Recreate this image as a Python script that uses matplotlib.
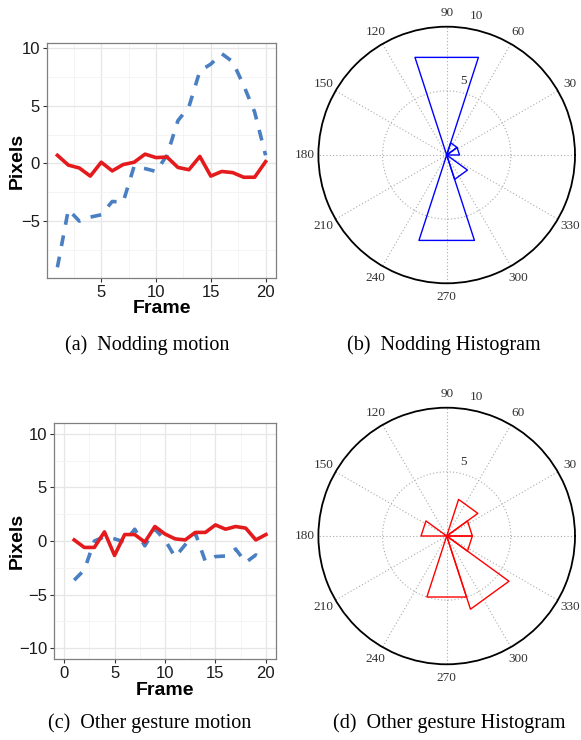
import numpy as np
import matplotlib
matplotlib.use("Agg")
import matplotlib.pyplot as plt

plt.rcParams['font.family'] = ['Liberation Sans', 'DejaVu Sans']

# frame-by-frame motion (pixels)
frames = np.arange(1, 21)
nod_red = [0.7, -0.15, -0.4, -1.1, 0.1, -0.65, -0.1, 0.1, 0.8, 0.5,
           0.55, -0.35, -0.55, 0.6, -1.1, -0.7, -0.8, -1.2, -1.2, 0.15]
nod_blue = [-9.0, -4.0, -5.0, -4.65, -4.45, -3.3, -3.35, -0.25, -0.45, -0.7,
            0.7, 3.7, 4.9, 8.0, 8.6, 9.5, 8.8, 6.75, 4.45, 0.7]
oth_red = [0.1, -0.6, -0.6, 0.85, -1.35, 0.6, 0.6, -0.1, 1.35, 0.65,
           0.2, 0.1, 0.8, 0.8, 1.5, 1.1, 1.35, 1.2, 0.1, 0.6]
oth_blue = [-3.65, -2.7, 0.0, 0.4, 0.2, -0.1, 1.1, -0.45, 1.1, 0.1,
            -1.5, -0.35, 0.75, -1.9, -1.45, -1.4, -0.75, -2.0, -1.3, -1.9]

# rose histograms: 10 bins of 36 degrees, counts per bin
bin_edges = np.arange(0, 361, 36)
nod_counts = [1, 1, 8, 0, 0, 0, 0, 7, 2, 0]
oth_counts = [2, 3, 0, 0, 2, 0, 0, 5, 6, 2]

theta_ticks = [30, 60, 90, 120, 150, 180, 210, 240, 270, 300, 330]

RED = '#e41a1c'
BLUE = '#4a7fc1'
W, H = 581, 740

fig = plt.figure(figsize=(W / 100, H / 100), dpi=100)


def box(x0, y0, x1, y1):
    return [x0 / W, 1 - y1 / H, (x1 - x0) / W, (y1 - y0) / H]


def motion(rect, red, blue, xlim, ylim, xt, yt, xminor, yminor, ylab_x, xlab_y):
    ax = fig.add_axes(rect)
    ax.set_facecolor('white')
    ax.plot(frames, blue, color=BLUE, lw=2.6, ls=(0, (3, 3)), zorder=3)
    ax.plot(frames, red, color=RED, lw=2.6, zorder=4, solid_joinstyle='round')
    ax.set_xlim(*xlim)
    ax.set_ylim(*ylim)
    ax.set_xticks(xt)
    ax.set_yticks(yt)
    ax.set_xticks(xminor, minor=True)
    ax.set_yticks(yminor, minor=True)
    ax.grid(True, which='major', color='#e6e6e6', lw=0.9)
    ax.grid(True, which='minor', color='#f3f3f3', lw=0.6)
    ax.set_axisbelow(True)
    for s in ax.spines.values():
        s.set_color('#7f7f7f')
        s.set_linewidth(0.9)
    ax.tick_params(which='major', length=3, color='#333333', labelsize=12,
                   labelcolor='#1a1a1a', pad=2)
    ax.tick_params(which='minor', length=0)
    ax.set_xlabel('Frame', fontsize=14, fontweight='bold')
    ax.set_ylabel('Pixels', fontsize=14, fontweight='bold')
    ax.yaxis.set_label_coords(ylab_x, 0.5)
    ax.xaxis.set_label_coords(0.5, xlab_y)
    return ax


ax_a = motion(box(47, 43, 276, 278), nod_red, nod_blue, (0.05, 20.95), (-9.925, 10.425),
              [5, 10, 15, 20], [-5, 0, 5, 10], [2.5, 7.5, 12.5, 17.5],
              [-7.5, -2.5, 2.5, 7.5], -0.092, -0.093)
ax_c = motion(box(54, 423, 276, 659), oth_red, oth_blue, (-1, 21), (-11, 11),
              [0, 5, 10, 15, 20], [-10, -5, 0, 5, 10], [2.5, 7.5, 12.5, 17.5],
              [-7.5, -2.5, 2.5, 7.5], -0.126, -0.096)


def rose(rect, counts, color):
    ax = fig.add_axes(rect, projection='polar')
    ax.set_ylim(0, 10)
    ax.grid(False)
    ax.set_xticks([])
    ax.set_yticks([])
    ax.spines['polar'].set_linewidth(1.3)
    ax.spines['polar'].set_color('black')
    # dotted grid
    tt = np.linspace(0, 2 * np.pi, 361)
    ax.plot(tt, np.full_like(tt, 5), ls=(0, (1, 2)), color='#aaaaaa', lw=0.8)
    for a in range(0, 360, 30):
        ax.plot([np.deg2rad(a), np.deg2rad(a)], [0, 10], ls=(0, (1, 2)),
                color='#aaaaaa', lw=0.8)
    # rose triangles
    for i, c in enumerate(counts):
        if c == 0:
            continue
        t0, t1 = np.deg2rad(bin_edges[i]), np.deg2rad(bin_edges[i + 1])
        ax.plot([0, t0, t1, 0], [0, c, c, 0], color=color, lw=1.0, zorder=5)
    lab = dict(ha='center', va='center', fontsize=9.5, family='Liberation Serif',
               color='#333333', clip_on=False)
    for a in theta_ticks:
        ax.text(np.deg2rad(a), 11.1, str(a), **lab)
    ax.text(np.deg2rad(78), 11.05, '10', **lab)
    ax.text(np.deg2rad(77), 5.9, '5', **lab)
    return ax


rose(box(318.4, 26.7, 575, 283.3), nod_counts, '#0000ff')
rose(box(318.4, 407.7, 575, 664.3), oth_counts, '#ff0000')

cap = dict(fontsize=14.5, family='Liberation Serif', ha='center', va='center')
fig.text(147 / W, 1 - 345 / H, '(a)  Nodding motion', **cap)
fig.text(444 / W, 1 - 345 / H, '(b)  Nodding Histogram', **cap)
fig.text(150 / W, 1 - 723 / H, '(c)  Other gesture motion', **cap)
fig.text(449 / W, 1 - 723 / H, '(d)  Other gesture Histogram', **cap)

fig.savefig('out.png', dpi=100, facecolor='white')
